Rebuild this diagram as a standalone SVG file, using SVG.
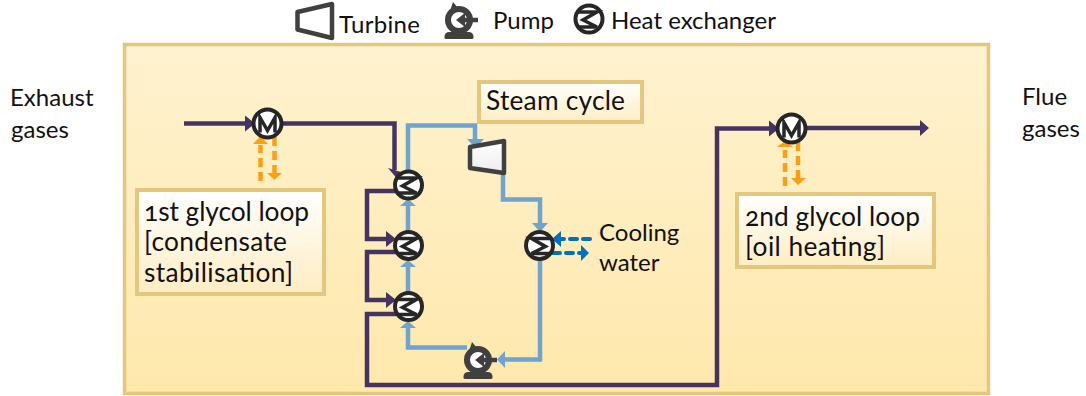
<svg xmlns="http://www.w3.org/2000/svg" width="1086" height="396" viewBox="0 0 1086 396">
<style>
text{font-family:"Lato","Open Sans","Liberation Sans",sans-serif;font-size:24px;fill:#111;font-feature-settings:"onum"}
.bt{font-size:26.300px}
.box{stroke:#E3C77F;stroke-width:4;fill:url(#bg2)}
.d{fill:none;stroke:#453462;stroke-width:4.500}
.b{fill:none;stroke:#6FA3D0;stroke-width:4.500}
.o{fill:none;stroke:#FF9F10;stroke-width:4.500;stroke-dasharray:9 5}
.c{fill:none;stroke:#0070C0;stroke-width:4;stroke-dasharray:7 6;stroke-linecap:round}
.hx{fill:#fff;stroke:#262626;stroke-width:4}
.z{fill:none;stroke:#262626;stroke-width:3.500}
.ma{fill:#453462}.ba{fill:#6FA3D0}.oa{fill:#FF9F10}.ca{fill:#0070C0}
.tb{fill:url(#tg);stroke:#404040;stroke-width:4.500;stroke-linejoin:round}
.pmp{fill:#404040}
</style>
<defs>
<linearGradient id="bg1" x1="0" y1="0" x2="0" y2="1"><stop offset="0" stop-color="#FFF2CF"/><stop offset="1" stop-color="#FEE8AC"/></linearGradient>
<linearGradient id="bg2" x1="0" y1="0" x2="0" y2="1"><stop offset="0" stop-color="#FFFFFF"/><stop offset="1" stop-color="#FEEDC2"/></linearGradient>
<linearGradient id="tg" x1="0" y1="0" x2="0" y2="1"><stop offset="0" stop-color="#FFFFFF"/><stop offset="1" stop-color="#EDEDED"/></linearGradient>
<g id="hxs"><circle r="13.500" class="hx"/><path d="M-11,-7H8L-6,1 8,8H-11" class="z"/></g>
<g id="hxm"><circle r="14" class="hx"/><path d="M-7.500,9V-6L0,7 7.500,-6V9" class="z"/></g>
<g id="pump"><circle cx="0" cy="0" r="11" fill="#fff" stroke="#404040" stroke-width="6"/><path d="M-14.500,17q0,-5 5,-5h19q5,0 5,5v1q0,1 -2,1h-25q-2,0 -2,-1z" class="pmp"/><path d="M-9,-9L-6,-18 -1,-12z" class="pmp"/><path d="M0,0H19" stroke="#404040" stroke-width="4.500"/><path d="M-3,0L6,-7V7z" class="pmp"/></g>
</defs>
<g id="legend">
<path d="M297.500,12L332,4V38L297.500,29.500z" fill="#fff" stroke="#404040" stroke-width="4.500" stroke-linejoin="round"/>
<text x="339" y="33" textLength="81">Turbine</text>
<use href="#pump" x="459" y="20"/>
<text x="493" y="29">Pump</text>
<use href="#hxs" x="589" y="19"/>
<text x="611" y="29">Heat exchanger</text>
</g>
<rect id="panel" x="124.500" y="44.500" width="864" height="349" fill="url(#bg1)" stroke="#E3C77F" stroke-width="3.500"/>
<g id="labels">
<text x="10" y="106">Exhaust</text><text x="11" y="138">gases</text>
<text x="1022" y="105">Flue</text><text x="1022" y="137">gases</text>
</g>
<g id="connectors">
<path class="d" d="M184,123.500H245M282,123.500H394.500V170"/>
<path class="ma" d="M245,115.500L255,123.500 245,131.500zM388,168L401,172 399,181z"/>
<path class="d" d="M396,191H367V239H387"/>
<path class="ma" d="M386,231L396,239 386,247z"/>
<path class="d" d="M396,252H367V300H387"/>
<path class="ma" d="M386,292L396,300 386,308z"/>
<path class="d" d="M396,314H367V385H717V128.500H770"/>
<path class="ma" d="M769,120.500L779,128.500 769,136.500z"/>
<path class="d" d="M806,128H921"/>
<path class="ma" d="M920,120L929,128 920,136z"/>
<path class="b" d="M408,172V125.500H475V140"/>
<path class="ba" d="M467,139H484L475.500,148z"/>
<path class="b" d="M503,174V199.500H540V224"/>
<path class="ba" d="M532,223H548L540,232z"/>
<path class="b" d="M408,231V206"/>
<path class="ba" d="M400,206L408,199 416,206z"/>
<path class="b" d="M408,292V267"/>
<path class="ba" d="M400,267L408,260 416,267z"/>
<path class="b" d="M467,347.500H408V328"/>
<path class="ba" d="M400,328L408,321 416,328z"/>
<path class="b" d="M540,260V359.500H505"/>
<path class="ba" d="M505,351V368L497,359.500z"/>
<path class="o" d="M260.500,181V145"/><path class="oa" d="M253,144L260.500,136 268,144z"/>
<path class="o" d="M274.500,137V173"/><path class="oa" d="M267,173H282L274.500,180z"/>
<path class="o" d="M785,186V150"/><path class="oa" d="M777,147L785,141 793,147z"/>
<path class="o" d="M798,142V178"/><path class="oa" d="M791,178H806L798,185z"/>
<path class="c" d="M590,239H561"/><path class="ca" d="M561,231V247L552,239z"/>
<path class="c" d="M553,253H581"/><path class="ca" d="M581,245V261L589,253z"/>
</g>
<g id="n-m1"><use href="#hxm" x="267.500" y="123.500"/></g>
<g id="n-m2"><use href="#hxm" x="791.500" y="128.500"/></g>
<g id="n-hx1"><use href="#hxs" x="408.500" y="185"/></g>
<g id="n-hx2"><use href="#hxs" x="408.500" y="245.500"/></g>
<g id="n-hx3"><use href="#hxs" x="408.500" y="306.500"/></g>
<g id="n-hx4" transform="translate(539.500 245.500) scale(-1 1)"><use href="#hxs"/></g>
<g id="n-turbine"><path class="tb" d="M470,147L504,141V173L470,168z"/></g>
<g id="n-pump"><use href="#pump" x="478" y="360"/></g>
<g id="n-steam"><rect class="box" x="479" y="82" width="163" height="40"/><text class="bt" x="486" y="110" textLength="139">Steam cycle</text></g>
<g id="n-glycol1"><rect class="box" x="137" y="190" width="187" height="104"/><text class="bt" x="144" y="221" textLength="165">1st glycol loop</text><text class="bt" x="144" y="251" textLength="143">[condensate</text><text class="bt" x="144" y="282" textLength="149">stabilisation]</text></g>
<g id="n-glycol2"><rect class="box" x="737" y="194" width="197" height="73"/><text class="bt" x="745" y="226" textLength="175">2nd glycol loop</text><text class="bt" x="745" y="256" textLength="140">[oil heating]</text></g>
<g id="n-cooling"><text x="599" y="241">Cooling</text><text x="599" y="271">water</text></g>
</svg>
